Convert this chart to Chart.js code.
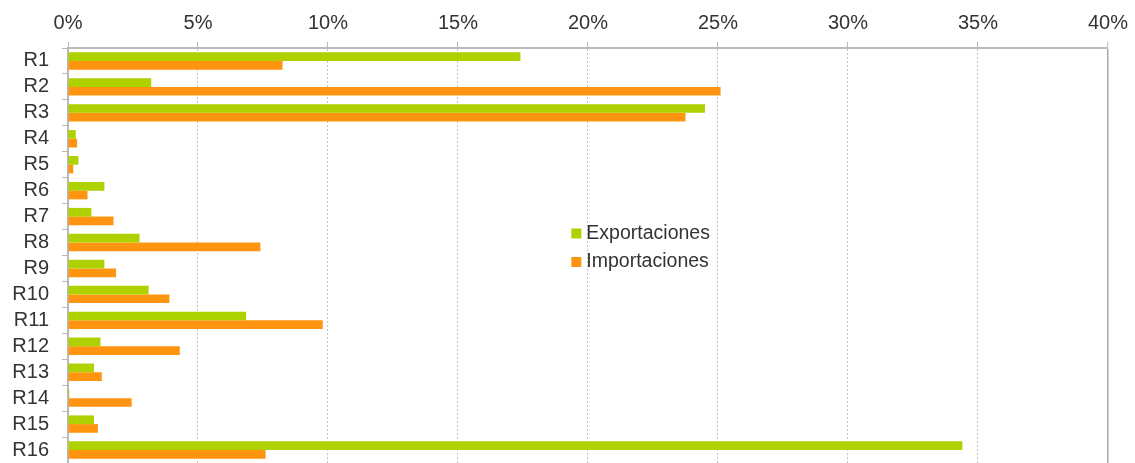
<!DOCTYPE html>
<html>
<head>
<meta charset="utf-8">
<script src="https://cdn.jsdelivr.net/npm/chart.js@4.4.1/dist/chart.umd.min.js"></script>
<style>
    body { margin: 0; background: #fff; }
    .trade-chart { width: 1135px; height: 463px; }
</style>
</head>
<body>
<div class="trade-chart"><canvas id="chart" width="1135" height="463"></canvas></div>
<script>
    /*
    ----------------------------------
         Data (share per region, %)
    ----------------------------------
    */

    var regions = ['R1', 'R2', 'R3', 'R4', 'R5', 'R6', 'R7', 'R8', 'R9', 'R10', 'R11', 'R12', 'R13', 'R14', 'R15', 'R16'];

    var exportaciones = [17.4, 3.2, 24.5, 0.3, 0.4, 1.4, 0.9, 2.75, 1.4, 3.1, 6.85, 1.25, 1.0, 0.05, 1.0, 34.4];

    var importaciones = [8.25, 25.1, 23.75, 0.35, 0.2, 0.75, 1.75, 7.4, 1.85, 3.9, 9.8, 4.3, 1.3, 2.45, 1.15, 7.6];

    var seriesLabels = ['Exportaciones', 'Importaciones'];

    var xTicks = [0, 5, 10, 15, 20, 25, 30, 35, 40];

    var colors = ['#aed100', '#ff9411'];

    var textColor = '#333';
    var fontFamily = '"Liberation Sans", Arial, sans-serif';

    // legend drawn inside the plot area, like the original
    const innerLegend = {
        id: 'innerLegend',
        afterDraw(chart) {
            const ctx = chart.ctx;
            const area = chart.chartArea;
            const x = area.left + (area.right - area.left) * 0.484;
            const y = area.top + (area.bottom - area.top) * 0.447;

            ctx.save();
            ctx.font = '19.5px ' + fontFamily;
            ctx.textBaseline = 'middle';
            chart.data.datasets.forEach((ds, i) => {
                const rowY = y + i * 28.5;
                ctx.fillStyle = ds.backgroundColor;
                ctx.fillRect(x, rowY - 5, 10, 10);
                ctx.fillStyle = textColor;
                ctx.fillText(ds.label, x + 15, rowY);
            });
            ctx.restore();
        }
    };

    var dataSet = [
        {
            label: seriesLabels[0],
            data: exportaciones,
            backgroundColor: colors[0],
        },
        {
            label: seriesLabels[1],
            data: importaciones,
            backgroundColor: colors[1],
        }
    ];

    new Chart(document.getElementById('chart'), {
        type: 'bar',
        data: {
            labels: regions,
            datasets: dataSet
        },
        options: {
            responsive: false,
            animation: false,
            indexAxis: 'y',
            layout: {
                padding: { left: 0, right: 22, top: 0, bottom: 0 }
            },
            datasets: {
                bar: {
                    categoryPercentage: 0.67,
                    barPercentage: 1.0,
                }
            },
            scales: {
                x: {
                    position: 'top',
                    min: 0,
                    max: 40,
                    afterBuildTicks(scale) {
                        scale.ticks = xTicks.map(v => ({ value: v }));
                    },
                    afterFit(scale) {
                        scale.height = 48;
                    },
                    grid: {
                        color: (c) => c.tick && c.tick.value === 40 ? '#a8a8a8' : '#c4c4c4',
                        lineWidth: (c) => c.tick && c.tick.value === 40 ? 1.5 : 1,
                        tickColor: '#b8b8b8',
                        tickLength: 6,
                        tickWidth: 1,
                    },
                    border: {
                        color: '#bcbcbc',
                        width: 2,
                        dash: (c) => c.type === 'tick' && c.tick && c.tick.value !== 40 ? [2, 2] : [],
                    },
                    ticks: {
                        color: textColor,
                        padding: 7,
                        maxRotation: 0,
                        font: { size: 20, family: fontFamily },
                        callback: (v) => v + '%',
                    }
                },
                y: {
                    afterFit(scale) {
                        scale.width = 68;
                        scale.paddingTop = 0;
                        scale.paddingBottom = 0;
                    },
                    grid: {
                        drawOnChartArea: false,
                        tickColor: '#b8b8b8',
                        tickLength: 6,
                        offset: true,
                    },
                    border: {
                        color: '#b8b8b8',
                        width: 2,
                    },
                    ticks: {
                        color: textColor,
                        padding: 13,
                        autoSkip: false,
                        font: { size: 20, family: fontFamily },
                    }
                }
            },
            plugins: {
                legend: { display: false },
                tooltip: { enabled: false }
            }
        },
        plugins: [innerLegend],
    });
</script>
</body>
</html>
